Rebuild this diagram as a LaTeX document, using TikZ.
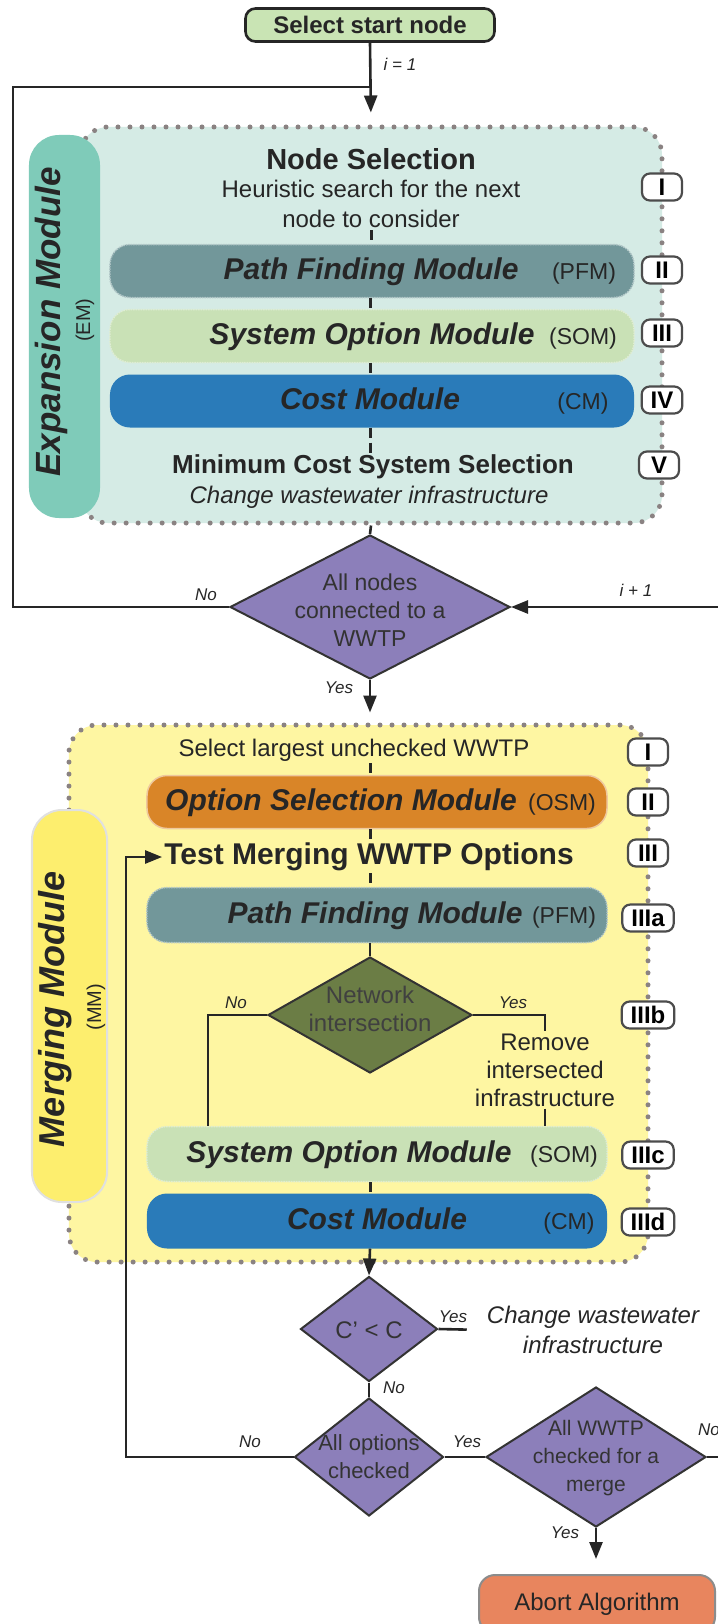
\documentclass[tikz,border=0pt]{standalone}
\usepackage{fontspec}
\setmainfont{Liberation Sans}
\usetikzlibrary{shapes.geometric,arrows.meta}

\definecolor{emfill}{HTML}{D5EBE5}
\definecolor{emlabel}{HTML}{7FCBB9}
\definecolor{mmfill}{HTML}{FEF6A2}
\definecolor{mmlabel}{HTML}{FDEE6E}
\definecolor{pfmgray}{HTML}{72979A}
\definecolor{somgreen}{HTML}{C9E1B6}
\definecolor{cmblue}{HTML}{2A7BB9}
\definecolor{osmorange}{HTML}{D98528}
\definecolor{decpurple}{HTML}{8C7FBA}
\definecolor{netolive}{HTML}{6B7D45}
\definecolor{startgreen}{HTML}{C9E4B4}
\definecolor{abortorange}{HTML}{E8855E}
\definecolor{dotgray}{HTML}{8A8282}
\definecolor{ink}{HTML}{262626}

\newcommand\setfs[2]{\fontsize{#1bp}{#2bp}\selectfont}

\tikzset{dotbox/.style = {draw=dotgray, line width=5bp, dash pattern=on 0bp off 12bp,
                          line cap=round, rounded corners=28bp},
         sidelabel/.style = {rounded corners=30bp, inner sep=0pt},
         sidename/.style = {rotate=90, inner sep=0pt, text=ink, font=\setfs{35}{40}\bfseries\itshape},
         sideabbr/.style = {rotate=90, inner sep=0pt, text=ink, font=\setfs{20}{24}},
         modbar/.style = {rounded corners=20bp, minimum height=53bp, inner sep=0pt},
         bartitle/.style = {inner sep=0pt, text height=22bp, text depth=6bp, text=ink,
                            font=\setfs{30}{36}\bfseries\itshape},
         barabbr/.style = {inner sep=0pt, text height=20bp, text depth=4bp, text=ink, font=\setfs{23}{28}},
         roman/.style = {draw=black!70, line width=2.2bp, fill=white, rounded corners=8bp,
                         minimum width=40bp, minimum height=27bp, inner xsep=9bp, inner ysep=0pt,
                         font=\setfs{24}{28}\bfseries},
         decision/.style = {diamond, draw=black!80, line width=2bp, fill=decpurple, inner sep=0pt},
         dectext/.style = {align=center, inner sep=0pt, text=black!80, font=\setfs{23}{28}},
         plain/.style = {align=center, inner sep=2bp, text=ink, font=\setfs{24}{30}},
         edgelbl/.style = {inner sep=0pt, text=ink, font=\setfs{17}{20}\itshape},
         link/.style = {draw=ink, line width=2.6bp},
         arrow/.style = {link, -{Triangle[length=17bp, width=13bp]}},
         dashlink/.style = {draw=ink, line width=3bp, dash pattern=on 10bp off 5bp}
        }

\begin{document}
\begin{tikzpicture}[x=1bp, y=-1bp]
  \useasboundingbox[fill=white] (0,0) rectangle (718,1624);

  \node[dotbox, fill=emfill, minimum width=582bp, minimum height=396bp] (embox) at (371,325) {};
  \node[dotbox, fill=mmfill, minimum width=579bp, minimum height=537bp] (mmbox) at (358.5,993.5) {};

  \node[sidelabel, fill=emlabel, minimum width=71bp, minimum height=383bp] (emside) at (64.5,326.5) {};
  \node[sidename] (emname) at (51,322) {Expansion Module};
  \node[sideabbr] (emabbr) at (85,320) {(EM)};
  \node[sidelabel, fill=mmlabel, draw=black!12, line width=2bp, minimum width=75bp, minimum height=392bp] (mmside) at (69.5,1006) {};
  \node[sidename, font=\setfs{36}{40}\bfseries\itshape] (mmname) at (55,1009) {Merging Module};
  \node[sideabbr] (mmabbr) at (96,1007) {(MM)};

  \node[draw=ink, line width=2.6bp, fill=startgreen, rounded corners=10bp, minimum width=249bp,
        minimum height=33bp, text=ink, font=\setfs{24}{28}\bfseries] (start) at (370,25) {Select start node};

  \node[plain, font=\setfs{29}{34}\bfseries] (nodesel) at (371,159) {Node Selection};
  \node[plain] (heur) at (371,204) {Heuristic search for the next\\node to consider};
  \node[modbar, fill=pfmgray, draw=white!45!pfmgray, densely dotted, line width=1.5bp, minimum width=524bp,
        label={[bartitle, xshift=-1bp]center:Path Finding Module},
        label={[barabbr, xshift=212bp]center:(PFM)}] (pfm1) at (372,271) {};
  \node[modbar, fill=somgreen, draw=white!40!somgreen, densely dotted, line width=1.5bp, minimum width=524bp,
        label={[bartitle]center:System Option Module},
        label={[barabbr, xshift=211bp]center:(SOM)}] (som1) at (372,336) {};
  \node[modbar, fill=cmblue, minimum width=524bp,
        label={[bartitle, xshift=-2bp]center:Cost Module},
        label={[barabbr, xshift=211bp]center:(CM)}] (cm1) at (372,401) {};
  \node[plain, font=\setfs{26}{30}\bfseries] (mincost) at (373,467) {Minimum Cost System Selection};
  \node[plain, font=\setfs{24}{30}\itshape] (chgem) at (369,497) {Change wastewater infrastructure};

  \node[decision, minimum width=280bp, minimum height=144bp] (allcon) at (370,607) {};
  \node[dectext] (allcontxt) at (370,610) {All nodes\\connected to a\\WWTP};

  \coordinate (axis) at (370,0);
  \node[plain] (selw) at (354,750) {Select largest unchecked WWTP};
  \node[modbar, fill=osmorange, draw=osmorange!45!white, line width=1.5bp, minimum width=460bp,
        label={[bartitle, xshift=-36bp]center:Option Selection Module},
        label={[barabbr, xshift=185bp]center:(OSM)}] (osm) at (377,802) {};
  \node[plain, font=\setfs{30}{34}\bfseries] (test) at (369,857) {Test Merging WWTP Options};
  \node[modbar, fill=pfmgray, draw=white!45!pfmgray, densely dotted, line width=1.5bp, minimum width=460bp,
        minimum height=55bp,
        label={[bartitle, xshift=-2bp]center:Path Finding Module},
        label={[barabbr, xshift=187bp]center:(PFM)}] (pfm2) at (377,915) {};
  \node[decision, fill=netolive, minimum width=204bp, minimum height=116bp] (netint) at (370,1015) {};
  \node[dectext, text=black!75, font=\setfs{24}{28}] (netinttxt) at (370,1009) {Network\\intersection};
  \node[plain, font=\setfs{24}{28}] (remove) at (545,1070) {Remove\\intersected\\infrastructure};
  \node[modbar, fill=somgreen, draw=white!40!somgreen, densely dotted, line width=1.5bp, minimum width=460bp,
        minimum height=55bp,
        label={[bartitle, xshift=-28bp]center:System Option Module},
        label={[barabbr, xshift=187bp]center:(SOM)}] (som2) at (377,1154) {};
  \node[modbar, fill=cmblue, minimum width=460bp, minimum height=55bp,
        label={[bartitle]center:Cost Module},
        label={[barabbr, xshift=192bp]center:(CM)}] (cm2) at (377,1221) {};

  \node[decision, minimum width=137bp, minimum height=105bp] (cmp) at (369,1329) {};
  \node[dectext, font=\setfs{24}{28}] (cmptxt) at (369,1330) {C' < C};
  \node[plain, font=\setfs{24}{30}\itshape] (chg) at (593,1330) {Change wastewater\\infrastructure};
  \node[decision, minimum width=149bp, minimum height=118bp] (allopt) at (369,1457) {};
  \node[dectext, font=\setfs{22}{28}] (allopttxt) at (369,1457) {All options\\checked};
  \node[decision, minimum width=220bp, minimum height=140bp] (allwwtp) at (596,1457) {};
  \node[dectext, font=\setfs{21}{28}] (allwwtptxt) at (596,1458) {All WWTP\\checked for a\\merge};
  \node[draw=black!45, line width=2bp, fill=abortorange, rounded corners=16bp, minimum width=236bp,
        minimum height=58bp, text=ink, font=\setfs{24}{28}] (abort) at (597,1604) {Abort Algorithm};

  \foreach \r/\y in {I/187, II/270, III/333, IV/400}
    \node[roman] (em\r) at (662,\y) {\r};
  \node[roman] (emV) at (659,465) {V};
  \foreach \r/\y in {I/752, II/802, III/853, IIIa/918, IIIb/1015, IIIc/1155, IIId/1222}
    \node[roman] (mm\r) at (648,\y) {\r};

  \coordinate (loopa) at (13,87);
  \coordinate (joina) at (370,87);
  \coordinate (loopb) at (735,607);
  \coordinate (loopc) at (126,857);

  \draw[arrow, shorten >=12bp] (start.south) -- (embox.north);
  \draw[link] (allcon.west) -| (loopa) -- (joina);
  \draw[dashlink] (heur.south) -- (heur.south |- pfm1.north);
  \draw[dashlink] (axis |- pfm1.south) -- (axis |- som1.north);
  \draw[dashlink] (axis |- som1.south) -- (axis |- cm1.north);
  \draw[dashlink] (axis |- cm1.south) -- (axis |- mincost.north);
  \draw[link] (embox.south) -- (allcon.north);
  \draw[arrow, shorten >=10bp] (allcon.south) -- (allcon.south |- mmbox.north);
  \draw[arrow] (allwwtp.east) -- (loopb |- allwwtp.east) -- (loopb) -- (allcon.east);

  \draw[dashlink] (axis |- selw.south) -- (axis |- osm.north);
  \draw[dashlink] (axis |- osm.south) -- (axis |- test.north);
  \draw[dashlink] (axis |- test.south) -- (axis |- pfm2.north);
  \draw[link] (axis |- pfm2.south) -- (netint.north);
  \draw[link] (netint.west) -| ([xshift=-169bp]som2.north);
  \draw[link] (netint.east) -| (remove.north);
  \draw[link] (remove.south) -- (remove.south |- som2.north);
  \draw[dashlink] (axis |- som2.south) -- (axis |- cm2.north);
  \draw[arrow] (axis |- cm2.south) -- (cmp.north);
  \draw[link, shorten >=18bp] (cmp.east) -- (chg.west);
  \draw[link] (cmp.south) -- (allopt.north);
  \draw[arrow] (allopt.west) -| (loopc) -- (test.west);
  \draw[link] (allopt.east) -- (allwwtp.west);
  \draw[arrow, shorten >=15bp] (allwwtp.south) -- (allwwtp.south |- abort.north);

  \node[edgelbl] (li1) at (400,64) {i = 1};
  \node[edgelbl] (lno1) at (206,595) {No};
  \node[edgelbl] (linc) at (636,590) {i + 1};
  \node[edgelbl] (lyes1) at (339,688) {Yes};
  \node[edgelbl] (lno2) at (236,1003) {No};
  \node[edgelbl] (lyes2) at (513,1003) {Yes};
  \node[edgelbl] (lyes3) at (453,1317) {Yes};
  \node[edgelbl] (lno3) at (394,1388) {No};
  \node[edgelbl] (lno4) at (250,1442) {No};
  \node[edgelbl] (lyes4) at (467,1442) {Yes};
  \node[edgelbl] (lno5) at (709,1430) {No};
  \node[edgelbl] (lyes5) at (565,1533) {Yes};
\end{tikzpicture}
\end{document}
